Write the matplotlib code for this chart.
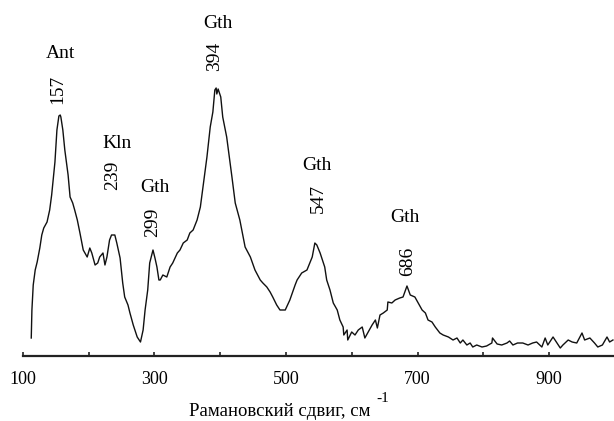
import matplotlib
matplotlib.use("Agg")
import matplotlib.pyplot as plt

# Raman shift (cm^-1) and intensity (arb. units)
shift = [113, 114, 116, 119, 122, 126, 129, 132, 137, 141, 144, 149, 152, 155, 157, 158,
         161, 164, 169, 172, 176, 179, 183, 187, 192, 198, 202, 205, 210, 214, 217, 222,
         225, 228, 232, 235, 240, 243, 248, 252, 255, 260, 263, 268, 274, 279, 283, 286,
         290, 293, 298, 301, 304, 307, 309, 313, 319, 324, 328, 335, 339, 344, 350, 354,
         359, 365, 370, 374, 380, 385, 389, 392, 394, 395, 397, 401, 404, 410, 418, 423,
         430, 438, 446, 453, 461, 465, 471, 476, 480, 486, 491, 499, 506, 514, 517, 524,
         532, 540, 544, 547, 552, 559, 562, 567, 572, 578, 582, 587, 588, 593, 594, 600,
         605, 610, 616, 620, 625, 631, 636, 639, 643, 648, 654, 655, 661, 666, 673, 678,
         684, 689, 696, 701, 707, 712, 716, 722, 727, 734, 739, 747, 754, 760, 765, 769,
         775, 780, 784, 790, 798, 805, 813, 814, 821, 828, 836, 840, 845, 852, 860, 868,
         875, 881, 889, 894, 898, 906, 912, 917, 921, 929, 935, 942, 950, 954, 962, 969,
         974, 981, 988, 992, 997]
intensity = [18, 46, 71, 86, 94, 108, 121, 128, 134, 146, 161, 194, 226, 240, 241, 239,
             226, 206, 181, 159, 153, 146, 136, 123, 106, 99, 108, 103, 91, 93, 99, 103,
             91, 99, 116, 121, 121, 113, 98, 73, 59, 51, 43, 31, 19, 14, 26, 46,
             66, 93, 106, 98, 89, 76, 76, 81, 79, 89, 93, 103, 106, 113, 116, 123,
             126, 136, 149, 169, 199, 229, 244, 266, 268, 262, 267, 259, 239, 219, 179, 153,
             136, 109, 99, 86, 76, 73, 69, 64, 59, 51, 46, 46, 56, 71, 76, 83,
             86, 99, 113, 111, 103, 89, 76, 66, 53, 46, 36, 29, 21, 26, 16, 24,
             21, 26, 29, 18, 24, 31, 36, 28, 41, 43, 46, 54, 53, 56, 58, 59,
             70, 61, 59, 53, 46, 43, 36, 34, 29, 23, 21, 19, 16, 18, 13, 16,
             11, 13, 9, 11, 9, 10, 13, 18, 12, 11, 13, 15, 11, 13, 13, 11,
             13, 14, 9, 18, 11, 19, 13, 8, 11, 16, 14, 13, 23, 16, 18, 13,
             9, 11, 19, 14, 16]

tick_major = [100, 300, 500, 700, 900]
tick_minor = [200, 400, 600, 800, 1000]

# peak annotations: mineral name and wavenumber label
peak_names = ["Ant", "Kln", "Gth", "Gth", "Gth", "Gth"]
peak_nums = ["157", "239", "299", "394", "547", "686"]
name_pos = [(157, 303), (243, 213), (301, 168), (397, 333), (547, 191), (681, 138)]
num_pos = [(153, 267), (237, 181), (298, 134), (392, 300), (549, 158), (685, 95)]

plt.rcParams['font.family'] = ['Liberation Serif', 'DejaVu Serif']

W, H = 614, 421
fig = plt.figure(figsize=(W / 100, H / 100), dpi=100)
left = 22.7 / W
bottom = (H - 356) / H
ax = fig.add_axes([left, bottom, 592.2 / W, 356 / H])
ax.set_xlim(100, 1000)
ax.set_ylim(0, 356)
ax.plot(shift, intensity, color='#111111', lw=1.0, clip_on=False)

for s in ['top', 'right', 'left']:
    ax.spines[s].set_visible(False)
ax.spines['bottom'].set_linewidth(1.6)
ax.spines['bottom'].set_color('#222222')
ax.set_yticks([])
ax.set_xticks(tick_major)
ax.set_xticklabels([str(t) for t in tick_major], fontsize=13)
ax.set_xticks(tick_minor, minor=True)
ax.tick_params(axis='x', which='both', direction='in', length=3, width=1.2,
               color='#222222', pad=11)

for name, (x, y) in zip(peak_names, name_pos):
    ax.text(x, y, name, fontsize=14, ha='center', va='center')
for num, (x, y) in zip(peak_nums, num_pos):
    ax.text(x, y, num, fontsize=14, ha='center', va='center', rotation=90)

fig.text(280 / W, 1 - 411 / H, "Рамановский сдвиг, см", fontsize=13.5,
         ha='center', va='center')
fig.text(383 / W, 1 - 398 / H, "-1", fontsize=11, ha='center', va='center')

fig.savefig("out.png", dpi=100)
